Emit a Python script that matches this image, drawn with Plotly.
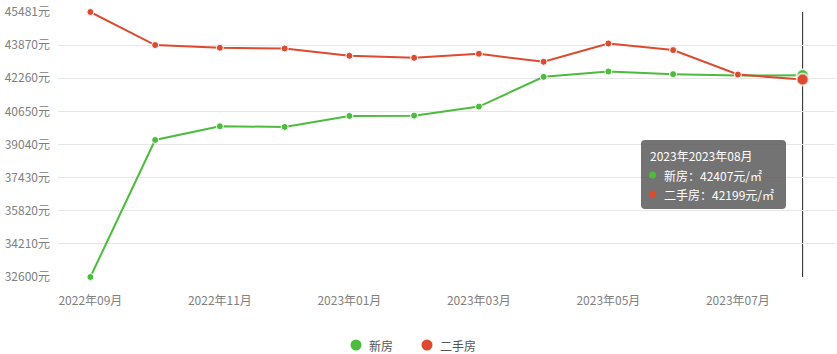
import plotly.graph_objects as go

months = ["2022年09月", "2022年10月", "2022年11月", "2022年12月", "2023年01月", "2023年02月",
          "2023年03月", "2023年04月", "2023年05月", "2023年06月", "2023年07月", "2023年08月"]
new_house = [32600, 39261, 39928, 39894, 40430, 40444, 40883, 42329, 42588, 42461, 42393, 42407]
second_house = [45481, 43874, 43742, 43708, 43352, 43255, 43450, 43060, 43952, 43630, 42441, 42199]
y_ticks = [32600, 34210, 35820, 37430, 39040, 40650, 42260, 43870, 45481]
y_labels = [f"{v}元" for v in y_ticks]
x_tick_labels = months[0::2]
series_names = ["新房", "二手房"]

GREEN = "#4dbb3d"
RED = "#dc4a2f"
FONT = "Noto Sans CJK SC, Microsoft YaHei, sans-serif"

fig = go.Figure()
fig.add_trace(go.Scatter(x=months, y=new_house, mode="lines+markers", name=series_names[0],
                         line=dict(color=GREEN, width=2), cliponaxis=False,
                         marker=dict(size=7, color=GREEN, line=dict(color="white", width=1)),
                         showlegend=False, hoverinfo="skip"))
fig.add_trace(go.Scatter(x=months, y=second_house, mode="lines+markers", name=series_names[1],
                         line=dict(color=RED, width=2), cliponaxis=False,
                         marker=dict(size=7, color=RED, line=dict(color="white", width=1)),
                         showlegend=False, hoverinfo="skip"))
# highlighted last points
fig.add_trace(go.Scatter(x=[months[-1]], y=[new_house[-1]], mode="markers", cliponaxis=False,
                         marker=dict(size=12, color=GREEN, line=dict(color="rgba(255,255,255,0.7)", width=2)),
                         showlegend=False, hoverinfo="skip"))
fig.add_trace(go.Scatter(x=[months[-1]], y=[second_house[-1]], mode="markers", cliponaxis=False,
                         marker=dict(size=12, color=RED, line=dict(color="rgba(255,255,255,0.7)", width=2)),
                         showlegend=False, hoverinfo="skip"))

fig.update_layout(
    width=837, height=354,
    margin=dict(l=58, r=2, t=12, b=77, autoexpand=False),
    paper_bgcolor="white", plot_bgcolor="white",
    font=dict(family=FONT, size=12, color="#808080"),
    hovermode=False,
    showlegend=False,
    xaxis=dict(type="category", range=[-0.5, 11.5], showgrid=False, zeroline=False,
               showline=False, ticks="", tickmode="array", tickvals=x_tick_labels,
               ticktext=x_tick_labels, ticklabelstandoff=15, automargin=False,
               tickfont=dict(size=12, color="#808080")),
    yaxis=dict(range=[32600, 45481], tickmode="array", tickvals=y_ticks, ticktext=y_labels,
               showgrid=True, gridcolor="#e6e6e6", gridwidth=1, zeroline=False, showline=False,
               ticks="", ticklabelstandoff=7, automargin=False,
               tickfont=dict(size=12, color="#808080")),
)

# vertical pointer line
fig.add_shape(type="line", xref="x", yref="paper", x0=11, x1=11, y0=0, y1=1,
              line=dict(color="#222222", width=1), layer="below")

PLOT_H = 354 - 12 - 77


def px_x(p):
    return (p - 58) / 777


def px_y(p):
    return (354 - 77 - p) / PLOT_H


# legend (manual)
legend_items = [(356, 367, series_names[0], GREEN), (427, 438, series_names[1], RED)]
for cx, tx, name, col in legend_items:
    r = 5.5
    fig.add_shape(type="circle", xref="paper", yref="paper",
                  x0=px_x(cx - r), x1=px_x(cx + r), y0=px_y(345 + r), y1=px_y(345 - r),
                  fillcolor=col, line=dict(width=0))
    fig.add_annotation(xref="paper", yref="paper", x=px_x(tx), y=px_y(345), xanchor="left",
                       yanchor="middle", showarrow=False, text=name,
                       font=dict(family=FONT, size=12, color="#555555"))

# tooltip box (rounded)
x0, x1, y0, y1, rr = 641, 786, 140, 209, 4
path = (f"M {x0+rr},{y0} L {x1-rr},{y0} Q {x1},{y0} {x1},{y0+rr} L {x1},{y1-rr} "
        f"Q {x1},{y1} {x1-rr},{y1} L {x0+rr},{y1} Q {x0},{y1} {x0},{y1-rr} "
        f"L {x0},{y0+rr} Q {x0},{y0} {x0+rr},{y0} Z")


def conv(tok_path):
    out = []
    for tok in tok_path.split(" "):
        if "," in tok:
            a, b = tok.split(",")
            out.append(f"{px_x(float(a)):.5f},{px_y(float(b)):.5f}")
        else:
            out.append(tok)
    return " ".join(out)


fig.add_shape(type="path", xref="paper", yref="paper", path=conv(path),
              fillcolor="rgba(90,90,90,0.85)", line=dict(width=0), layer="above")
fig.add_annotation(xref="paper", yref="paper", x=px_x(648), y=px_y(155), xanchor="left",
                   yanchor="middle", showarrow=False, text="2023年2023年08月",
                   font=dict(family=FONT, size=12, color="white"))
tip_rows = [(175, series_names[0], new_house[-1], GREEN), (194, series_names[1], second_house[-1], RED)]
for yy, name, val, col in tip_rows:
    fig.add_shape(type="circle", xref="paper", yref="paper",
                  x0=px_x(649), x1=px_x(656), y0=px_y(yy + 3.5), y1=px_y(yy - 3.5),
                  fillcolor=col, line=dict(width=0), layer="above")
    fig.add_annotation(xref="paper", yref="paper", x=px_x(662), y=px_y(yy), xanchor="left",
                       yanchor="middle", showarrow=False,
                       text=f"{name}：{val}元/㎡",
                       font=dict(family=FONT, size=12, color="white"))

fig.write_html("out.html")
